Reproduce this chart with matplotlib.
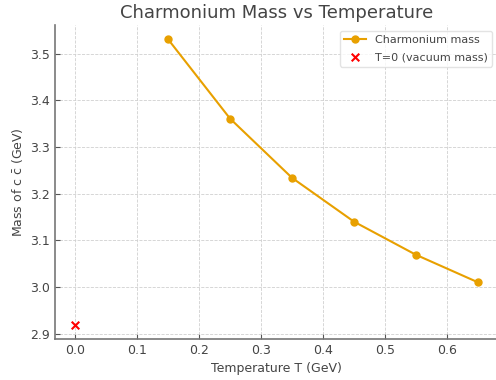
import matplotlib
matplotlib.use("Agg")
import matplotlib.pyplot as plt

temperatures = [0.15, 0.25, 0.35, 0.45, 0.55, 0.65]
masses = [3.531, 3.361, 3.234, 3.140, 3.069, 3.010]
vacuum_T = [0.0]
vacuum_mass = [2.919]

text_color = "#444444"
plt.rcParams.update({
    "font.family": "DejaVu Sans",
    "text.color": text_color,
    "axes.labelcolor": text_color,
    "xtick.color": text_color,
    "ytick.color": text_color,
})

fig = plt.figure(figsize=(4.96, 3.8), dpi=100)
ax = fig.add_axes([55/496, 1 - 339/380, (498 - 55)/496, (339 - 25)/380])

ax.plot(temperatures, masses, marker="o", color="#E8A000", linewidth=1.5,
        markersize=5, label="Charmonium mass")
ax.scatter(vacuum_T, vacuum_mass, marker="x", color="red", s=30,
           linewidths=1.5, label="T=0 (vacuum mass)", zorder=3)

ax.set_title("Charmonium Mass vs Temperature", fontsize=13, color=text_color, pad=5)
ax.set_xlabel("Temperature T (GeV)", fontsize=9)
ax.set_ylabel(r"Mass of c $\bar{\mathrm{c}}$ (GeV)", fontsize=9)
ax.tick_params(labelsize=9, color="#555555", direction="in")
ax.grid(True, linestyle="--", color="#d0d0d0", linewidth=0.6)
for side in ["top", "right"]:
    ax.spines[side].set_visible(False)
for side in ["left", "bottom"]:
    ax.spines[side].set_color("#777777")
    ax.spines[side].set_linewidth(1.2)
ax.set_axisbelow(True)

leg = ax.legend(loc="upper right", fontsize=8, frameon=True, labelspacing=0.65)
leg.get_frame().set_edgecolor("#dddddd")

fig.savefig("out.png", dpi=100)
